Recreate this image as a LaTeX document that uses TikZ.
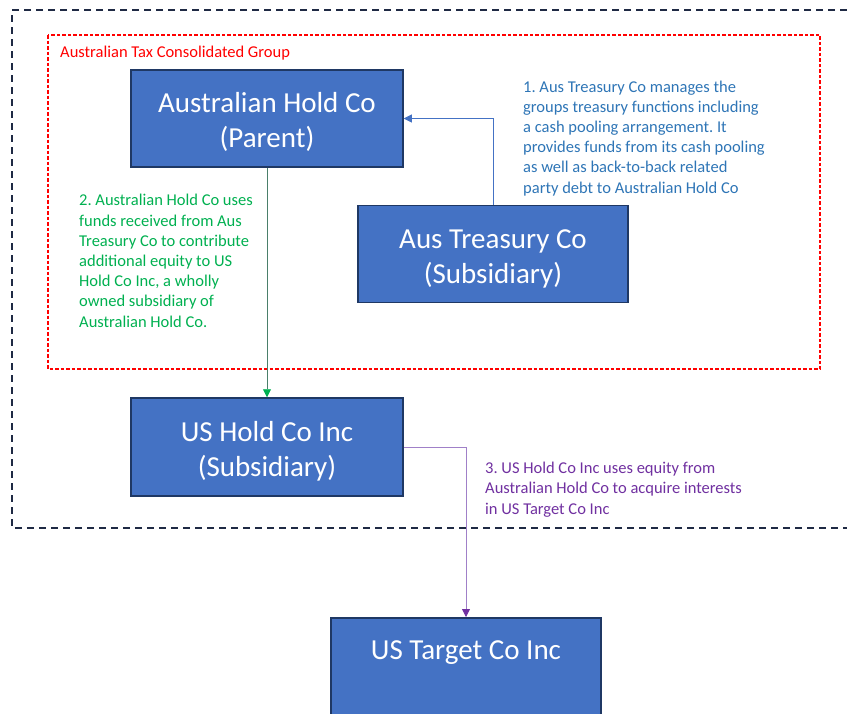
\documentclass[tikz,border=0pt]{standalone}
\usepackage{fontspec}
\setmainfont{Carlito}
\usepackage{xcolor}
\usetikzlibrary{arrows.meta, positioning}
\definecolor{boxblue}{HTML}{4472C4}
\definecolor{boxedge}{HTML}{1F3864}
\definecolor{noteblue}{HTML}{2E75B6}
\definecolor{notegreen}{HTML}{00B050}
\definecolor{linegreen}{HTML}{4A7F6A}
\definecolor{notepurple}{HTML}{7030A0}
\definecolor{linepurple}{HTML}{A080C8}
\definecolor{groupnavy}{HTML}{1F2A44}
\frenchspacing

\begin{document}
\begin{tikzpicture}[x=1pt, y=-1pt,
    company/.style={rectangle, draw=boxedge, line width=1.5pt, fill=boxblue, text=white,
      minimum width=272pt, minimum height=97pt, align=center, font=\fontsize{29}{35}\selectfont},
    note/.style={anchor=base west, align=left, inner sep=0pt, font=\fontsize{16.5}{20.2}\selectfont}]
      \useasboundingbox (0,0) rectangle (847,713);

      \draw[groupnavy, line width=2pt, dash pattern=on 7pt off 5pt] (847,10) -- (12,10) -- (12,528) -- (847,528);
      \draw[red, line width=1.5pt, dash pattern=on 3.5pt off 2pt] (48,35) rectangle (820,369);
      \node[note, text=red] (grouplbl) at (60,57) {Australian Tax Consolidated Group};

      \node[company] (holdco) at (267,118.5) {\rule{0pt}{28pt}Australian Hold Co\\(Parent)};
      \node[company, minimum width=270pt] (treasury) at (493,254) {\rule{0pt}{28pt}Aus Treasury Co\\(Subsidiary)};
      \node[company, minimum height=98pt] (ushold) at (267,447) {\rule{0pt}{28pt}US Hold Co Inc\\(Subsidiary)};
      \node[company, minimum width=270pt, minimum height=110pt, anchor=north] (target) at (466,617) {};
      \node[anchor=base, text=white, font=\fontsize{29}{35}\selectfont] (targetlbl) at ([yshift=-42pt]target.north) {US Target Co Inc};

      \draw[boxblue, line width=0.8pt, -{Triangle[length=8pt, width=8pt]}] (treasury.north) |- (holdco.east);
      \draw[linegreen, line width=0.8pt, -{Triangle[length=8pt, width=8pt, color=notegreen]}] (holdco.south) -- (ushold.north);
      \draw[linepurple, line width=0.8pt, -{Triangle[length=8pt, width=8pt, color=notepurple]}] (ushold.east) -| (target.north);

      \node[note, text=noteblue] (note1) at (523,193) {1. Aus Treasury Co manages the\\groups treasury functions including\\a cash pooling arrangement. It\\provides funds from its cash pooling\\as well as back-to-back related\\party debt to Australian Hold Co};
      \node[note, text=notegreen] (note2) at (79,327) {2. Australian Hold Co uses\\funds received from Aus\\Treasury Co to contribute\\additional equity to US\\Hold Co Inc, a wholly\\owned subsidiary of\\Australian Hold Co.};
      \node[note, text=notepurple] (note3) at (485,514) {3. US Hold Co Inc uses equity from\\Australian Hold Co to acquire interests\\in US Target Co Inc};
    \end{tikzpicture}
\end{document}
